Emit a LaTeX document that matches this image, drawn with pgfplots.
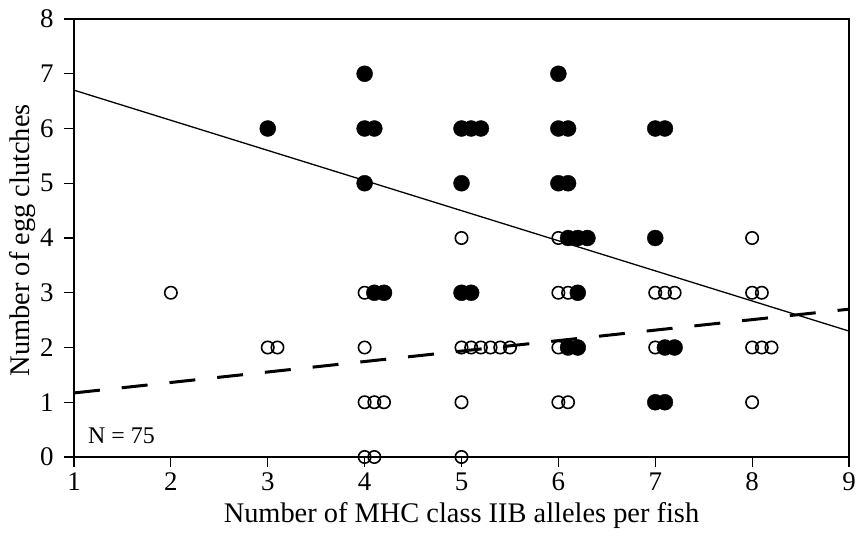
\documentclass[border=0pt]{standalone}
\usepackage{pgfplots}
\pgfplotsset{compat=1.18}
\usepackage{fontspec}
\setmainfont{Liberation Serif}

\begin{document}
\begin{tikzpicture}
\begin{axis}[
  scale only axis, width=775bp, height=438bp,
  xmin=1, xmax=9, ymin=0, ymax=8,
  xtick={1,...,9}, ytick={0,...,8},
  tick pos=left, tick align=outside,
  major tick length=10bp,
  axis line style={line width=1.6bp},
  every tick/.style={line width=1.2bp, black},
  tick label style={font=\fontsize{27}{27}\selectfont},
  yticklabel style={xshift=-7bp},
  xticklabel style={yshift=-2bp},
  /pgf/number format/assume math mode=true,
  xlabel={Number of MHC class IIB alleles per fish},
  ylabel={Number of egg clutches},
  every axis x label/.style={at={(axis description cs:0.5,-0.134)}, anchor=center, font=\fontsize{28.5}{28.5}\selectfont},
  every axis y label/.style={at={(axis description cs:-0.066,0.495)}, anchor=center, rotate=90, font=\fontsize{28.5}{28.5}\selectfont},
  clip=false,
]
% filled symbols
\addplot[only marks, mark=*, mark size=8bp, mark options={fill=black, draw=black}] coordinates {
  (3,6)
  (4,7) (4,6) (4.1,6) (4,5) (4.1,3) (4.2,3)
  (5,6) (5.1,6) (5.2,6) (5,5) (5,3) (5.1,3)
  (6,7) (6,6) (6.1,6) (6,5) (6.1,5) (6.1,4) (6.2,4) (6.3,4) (6.2,3) (6.1,2) (6.2,2)
  (7,6) (7.1,6) (7,4) (7.1,2) (7.2,2) (7,1) (7.1,1)
};
% open symbols
\addplot[only marks, mark=o, mark size=6.2bp, mark options={fill=white, draw=black, line width=1.6bp}] coordinates {
  (2,3)
  (3,2) (3.1,2)
  (4,3) (4,2) (4,1) (4.1,1) (4.2,1) (4,0) (4.1,0)
  (5,4) (5,2) (5.1,2) (5.2,2) (5.3,2) (5.4,2) (5.5,2) (5,1) (5,0)
  (6,4) (6,3) (6.1,3) (6,2) (6,1) (6.1,1)
  (7,3) (7.1,3) (7.2,3) (7,2)
  (8,4) (8.1,3) (8,3) (8,2) (8.1,2) (8.2,2) (8,1)
};
% regression lines
\addplot[black, line width=1.3bp] coordinates {(1,6.70) (9,2.30)};
\addplot[black, line width=3bp, dash pattern=on 26bp off 22bp] coordinates {(1,1.17) (9,2.70)};
\node[anchor=center, font=\fontsize{24}{24}\selectfont] at (axis cs:1.49,0.38) {N = 75};
\end{axis}
\pgfresetboundingbox
\useasboundingbox (-74bp,-81bp) rectangle (783bp,457bp);
\end{tikzpicture}
\end{document}
